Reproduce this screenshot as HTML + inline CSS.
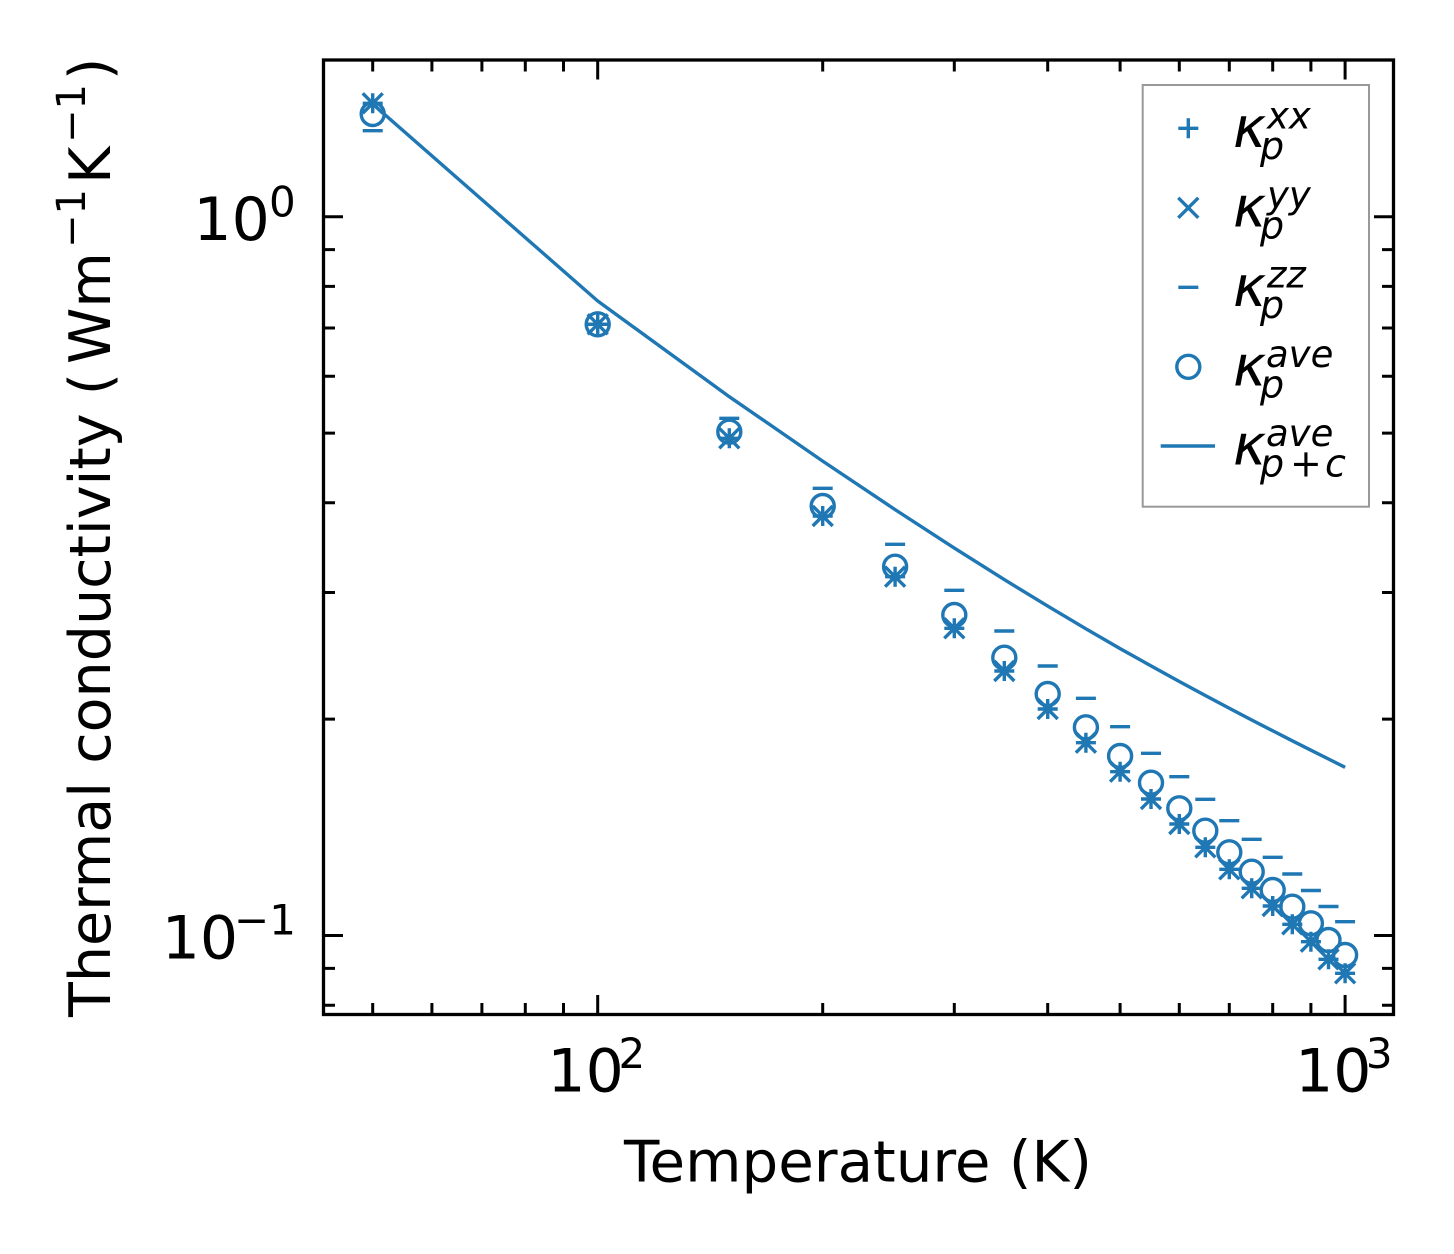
<!DOCTYPE html>
<html><head><meta charset="utf-8"><style>html,body{margin:0;padding:0;background:#fff}svg{display:block}text{font-family:"DejaVu Sans","Liberation Sans",sans-serif;fill:#000}</style></head>
<body>
<svg width="1454" height="1254" viewBox="0 0 1454 1254">
<rect x="0" y="0" width="1454" height="1254" fill="#fff"/>
<!-- data -->
<g fill="none" stroke="#1f77b4" stroke-width="3.4">
<polyline stroke-linejoin="round" points="372.7,104 597.7,301 729.3,396.7 822.7,461.1 895.1,509.6 954.3,548.1 1004.3,579.6 1047.7,606.1 1085.9,628.8 1120.1,648.6 1151,665.9 1179.3,681.5 1205.3,695.5 1229.3,708.3 1251.7,720 1272.7,730.8 1292.3,740.8 1310.9,750.2 1328.5,759 1345.1,767.3"/>
<path d="M362.7,103.3h20m-10,-10v20M362.7,93.3l20,20m0,-20l-20,20
M587.7,324.3h20m-10,-10v20M587.7,314.3l20,20m0,-20l-20,20
M719.3,438.3h20m-10,-10v20M719.3,428.3l20,20m0,-20l-20,20
M812.7,516h20m-10,-10v20M812.7,506l20,20m0,-20l-20,20
M885.1,576.7h20m-10,-10v20M885.1,566.7l20,20m0,-20l-20,20
M944.3,628.3h20m-10,-10v20M944.3,618.3l20,20m0,-20l-20,20
M994.3,671h20m-10,-10v20M994.3,661l20,20m0,-20l-20,20
M1037.7,709h20m-10,-10v20M1037.7,699l20,20m0,-20l-20,20
M1075.9,742.7h20m-10,-10v20M1075.9,732.7l20,20m0,-20l-20,20
M1110.1,771.7h20m-10,-10v20M1110.1,761.7l20,20m0,-20l-20,20
M1141,799h20m-10,-10v20M1141,789l20,20m0,-20l-20,20
M1169.3,824h20m-10,-10v20M1169.3,814l20,20m0,-20l-20,20
M1195.3,847.3h20m-10,-10v20M1195.3,837.3l20,20m0,-20l-20,20
M1219.3,869.3h20m-10,-10v20M1219.3,859.3l20,20m0,-20l-20,20
M1241.7,888.3h20m-10,-10v20M1241.7,878.3l20,20m0,-20l-20,20
M1262.7,906h20m-10,-10v20M1262.7,896l20,20m0,-20l-20,20
M1282.3,924.3h20m-10,-10v20M1282.3,914.3l20,20m0,-20l-20,20
M1300.9,941.7h20m-10,-10v20M1300.9,931.7l20,20m0,-20l-20,20
M1318.5,959.3h20m-10,-10v20M1318.5,949.3l20,20m0,-20l-20,20
M1335.1,973.3h20m-10,-10v20M1335.1,963.3l20,20m0,-20l-20,20"/>
<path d="M362.7,130.7h20M587.7,324.3h20M719.3,418.3h20M812.7,488.3h20M885.1,544.3h20M944.3,590.3h20M994.3,631h20M1037.7,666h20M1075.9,698.3h20M1110.1,726.7h20M1141,753.3h20M1169.3,776.7h20M1195.3,799.3h20M1219.3,820.7h20M1241.7,839.3h20M1262.7,857.3h20M1282.3,874h20M1300.9,890.5h20M1318.5,906.5h20M1335.1,921.7h20"/>
<circle cx="372.7" cy="114" r="11.5"/>
<circle cx="597.7" cy="324.3" r="11.5"/>
<circle cx="729.3" cy="431.7" r="11.5"/>
<circle cx="822.7" cy="506" r="11.5"/>
<circle cx="895.1" cy="566.7" r="11.5"/>
<circle cx="954.3" cy="615" r="11.5"/>
<circle cx="1004.3" cy="657.7" r="11.5"/>
<circle cx="1047.7" cy="694" r="11.5"/>
<circle cx="1085.9" cy="727.3" r="11.5"/>
<circle cx="1120.1" cy="756" r="11.5"/>
<circle cx="1151" cy="782.7" r="11.5"/>
<circle cx="1179.3" cy="808.3" r="11.5"/>
<circle cx="1205.3" cy="830.7" r="11.5"/>
<circle cx="1229.3" cy="852.3" r="11.5"/>
<circle cx="1251.7" cy="871.7" r="11.5"/>
<circle cx="1272.7" cy="890" r="11.5"/>
<circle cx="1292.3" cy="906.7" r="11.5"/>
<circle cx="1310.9" cy="923.3" r="11.5"/>
<circle cx="1328.5" cy="940" r="11.5"/>
<circle cx="1345.1" cy="955" r="11.5"/>
</g>
<!-- ticks -->
<g stroke="#000" stroke-width="3" fill="none">
<path d="M597.7,1014.5v-19.5M1345.1,1014.5v-19.5M597.7,60v19.5M1345.1,60v19.5
M323.5,216.7h19.5M323.5,935.5h19.5M1393.5,216.7h-19.5M1393.5,935.5h-19.5"/>
<path d="M372.7,1014.5v-11.5M431.9,1014.5v-11.5M481.9,1014.5v-11.5M525.3,1014.5v-11.5M563.5,1014.5v-11.5M822.7,1014.5v-11.5M954.3,1014.5v-11.5M1047.7,1014.5v-11.5M1120.1,1014.5v-11.5M1179.3,1014.5v-11.5M1229.3,1014.5v-11.5M1272.7,1014.5v-11.5M1310.9,1014.5v-11.5
M372.7,60v11.5M431.9,60v11.5M481.9,60v11.5M525.3,60v11.5M563.5,60v11.5M822.7,60v11.5M954.3,60v11.5M1047.7,60v11.5M1120.1,60v11.5M1179.3,60v11.5M1229.3,60v11.5M1272.7,60v11.5M1310.9,60v11.5
M323.5,1005.2h11.5M323.5,968.4h11.5M323.5,719.1h11.5M323.5,592.5h11.5M323.5,502.7h11.5M323.5,433.1h11.5M323.5,376.2h11.5M323.5,328h11.5M323.5,286.4h11.5M323.5,249.6h11.5
M1393.5,1005.2h-11.5M1393.5,968.4h-11.5M1393.5,719.1h-11.5M1393.5,592.5h-11.5M1393.5,502.7h-11.5M1393.5,433.1h-11.5M1393.5,376.2h-11.5M1393.5,328h-11.5M1393.5,286.4h-11.5M1393.5,249.6h-11.5"/>
</g>
<rect x="323.5" y="60" width="1070" height="954.5" fill="none" stroke="#000" stroke-width="3.3"/>
<!-- tick labels -->
<text x="547.4" y="1091.7" font-size="60">10</text>
<text x="618.5" y="1068" font-size="42">2</text>
<text x="1295.1" y="1091.7" font-size="60">10</text>
<text x="1365.9" y="1068" font-size="42">3</text>
<text x="193.4" y="240" font-size="60">10</text>
<text x="269" y="216.3" font-size="42">0</text>
<text x="161.7" y="958.3" font-size="60">10</text>
<text x="234" y="934.6" font-size="42">−1</text>
<!-- axis labels -->
<text x="624" y="1181.7" font-size="57" textLength="468" lengthAdjust="spacingAndGlyphs">Temperature (K)</text>
<text transform="translate(110,0) rotate(-90)" font-size="57" x="-1017" y="0" textLength="644" lengthAdjust="spacingAndGlyphs">Thermal conductivity (</text>
<text transform="translate(110,0) rotate(-90)" font-size="57"><tspan x="-364" y="0">W</tspan><tspan x="-307.6" y="0">m</tspan><tspan x="-248" y="-25" font-size="40">−1</tspan><tspan x="-184" y="0">K</tspan><tspan x="-143" y="-25" font-size="40">−1</tspan><tspan x="-80" y="0">)</tspan></text>
<!-- legend -->
<rect x="1142.7" y="85" width="226.3" height="421.7" fill="#fff" stroke="#999" stroke-width="2"/>
<g fill="none" stroke="#1f77b4" stroke-width="3.4">
<path d="M1178.3,128.3h20m-10,-10v20"/>
<path d="M1178.3,197.8l20,20m0,-20l-20,20"/>
<path d="M1178.3,287.3h20"/>
<circle cx="1188.3" cy="366.8" r="11.5"/>
<path d="M1160.7,446H1215"/>
</g>
<g font-style="italic">
<text x="1233" y="146.8" font-size="56">κ</text>
<text x="1267" y="128.3" font-size="37">xx</text>
<text x="1260" y="158.8" font-size="38">p</text>
<text x="1233" y="226.3" font-size="56">κ</text>
<text x="1267" y="207.8" font-size="37">yy</text>
<text x="1260" y="238.3" font-size="38">p</text>
<text x="1233" y="305.8" font-size="56">κ</text>
<text x="1267" y="287.3" font-size="37">zz</text>
<text x="1260" y="317.8" font-size="38">p</text>
<text x="1233" y="385.3" font-size="56">κ</text>
<text x="1266" y="366.8" font-size="37">ave</text>
<text x="1260" y="397.3" font-size="38">p</text>
<text x="1233" y="464.5" font-size="56">κ</text>
<text x="1266" y="446" font-size="37">ave</text>
<text x="1260" y="476.5" font-size="38">p</text>
<text x="1290" y="476.5" font-size="38" font-style="normal">+</text>
<text x="1325" y="476.5" font-size="38">c</text>
</g>
</svg>
</body></html>
